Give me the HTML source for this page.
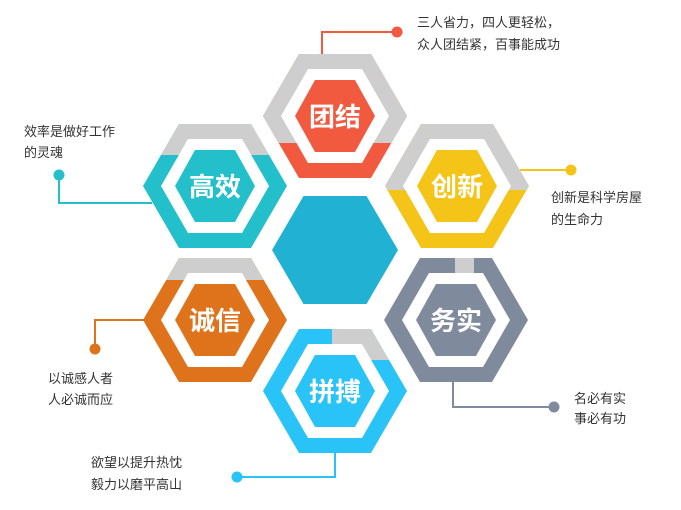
<!DOCTYPE html>
<html><head><meta charset="utf-8"><style>
html,body{margin:0;padding:0;background:#fff;width:681px;height:510px;overflow:hidden}
svg{display:block}
.t{font-family:"Liberation Sans","Noto Sans CJK SC",sans-serif;font-size:13px;fill:#333}
.h{font-family:"Liberation Sans","Noto Sans CJK SC",sans-serif;font-size:26px;font-weight:bold;fill:#fff}
</style></head><body>
<svg width="681" height="510" viewBox="0 0 681 510" xmlns="http://www.w3.org/2000/svg">
<defs>
<clipPath id="c1"><polygon points="263,116 299,54 371,54 407,116 371,178 299,178"/></clipPath>
<clipPath id="c2"><polygon points="143,186 179,124 251,124 287,186 251,248 179,248"/></clipPath>
<clipPath id="c3"><polygon points="385,186 421,124 493,124 529,186 493,248 421,248"/></clipPath>
<clipPath id="c4"><polygon points="143,320 179,258 251,258 287,320 251,382 179,382"/></clipPath>
<clipPath id="c5"><polygon points="384,320 420,258 492,258 528,320 492,382 420,382"/></clipPath>
<clipPath id="c6"><polygon points="263,391 299,329 371,329 407,391 371,453 299,453"/></clipPath>
</defs>

<!-- connectors -->
<g fill="none" stroke-width="2">
<polyline points="322,56 322,32 397,32" stroke="#f25a40"/>
<polyline points="59,175 59,203 152,203" stroke="#23bfcb"/>
<polyline points="520,170 571,170" stroke="#f5c419"/>
<polyline points="95,349 95,320 145,320" stroke="#df731c"/>
<polyline points="453,380 453,407 554,407" stroke="#7f8a9c"/>
<polyline points="335,451 335,477 237,477" stroke="#29c3f7"/>
</g>
<circle cx="397" cy="32" r="5.5" fill="#f25a40"/>
<circle cx="59" cy="175" r="5.5" fill="#23bfcb"/>
<circle cx="571" cy="170" r="5.5" fill="#f5c419"/>
<circle cx="95" cy="349" r="5.5" fill="#df731c"/>
<circle cx="554" cy="407" r="5.5" fill="#7f8a9c"/>
<circle cx="237" cy="477" r="5.5" fill="#29c3f7"/>

<!-- center -->
<polygon points="272,250 303.5,196 366.5,196 398,250 366.5,304 303.5,304" fill="#21b1d3"/>

<!-- 团结 -->
<polygon points="263,116 299,54 371,54 407,116 371,178 299,178" fill="#f25a40"/>
<rect x="250" y="40" width="170" height="103" fill="#cecece" clip-path="url(#c1)"/>
<polygon points="281,116 308,69 362,69 389,116 362,163 308,163" fill="#fff"/>
<polygon points="295,116 315,80 355,80 375,116 355,152 315,152" fill="#f25a40"/>
<text x="335" y="126" text-anchor="middle" class="h">团结</text>

<!-- 高效 -->
<polygon points="143,186 179,124 251,124 287,186 251,248 179,248" fill="#23bfcb"/>
<rect x="130" y="110" width="170" height="45" fill="#cecece" clip-path="url(#c2)"/>
<polygon points="161,186 188,139 242,139 269,186 242,233 188,233" fill="#fff"/>
<polygon points="175,186 195,150 235,150 255,186 235,222 195,222" fill="#23bfcb"/>
<text x="215" y="196" text-anchor="middle" class="h">高效</text>

<!-- 创新 -->
<polygon points="385,186 421,124 493,124 529,186 493,248 421,248" fill="#f5c419"/>
<rect x="370" y="110" width="170" height="80" fill="#cecece" clip-path="url(#c3)"/>
<polygon points="403,186 430,139 484,139 511,186 484,233 430,233" fill="#fff"/>
<polygon points="417,186 437,150 477,150 497,186 477,222 437,222" fill="#f5c419"/>
<text x="457" y="196" text-anchor="middle" class="h">创新</text>

<!-- 诚信 -->
<polygon points="143,320 179,258 251,258 287,320 251,382 179,382" fill="#df731c"/>
<rect x="130" y="250" width="170" height="30" fill="#cecece" clip-path="url(#c4)"/>
<polygon points="161,320 188,273 242,273 269,320 242,367 188,367" fill="#fff"/>
<polygon points="175,320 195,284 235,284 255,320 235,356 195,356" fill="#df731c"/>
<text x="215" y="330" text-anchor="middle" class="h">诚信</text>

<!-- 务实 -->
<polygon points="384,320 420,258 492,258 528,320 492,382 420,382" fill="#7f8a9c"/>
<rect x="455" y="250" width="19" height="30" fill="#cecece" clip-path="url(#c5)"/>
<polygon points="402,320 429,273 483,273 510,320 483,367 429,367" fill="#fff"/>
<polygon points="416,320 436,284 476,284 496,320 476,356 436,356" fill="#7f8a9c"/>
<text x="456" y="330" text-anchor="middle" class="h">务实</text>

<!-- 拼搏 -->
<polygon points="263,391 299,329 371,329 407,391 371,453 299,453" fill="#29c3f7"/>
<rect x="332" y="320" width="90" height="40" fill="#cecece" clip-path="url(#c6)"/>
<polygon points="281,391 308,344 362,344 389,391 362,438 308,438" fill="#fff"/>
<polygon points="295,391 315,355 355,355 375,391 355,427 315,427" fill="#29c3f7"/>
<text x="335" y="401" text-anchor="middle" class="h">拼搏</text>

<!-- labels -->
<text x="417" y="27" class="t">三人省力，四人更轻松，</text>
<text x="417" y="49" class="t">众人团结紧，百事能成功</text>
<text x="24" y="136" class="t">效率是做好工作</text>
<text x="24" y="157" class="t">的灵魂</text>
<text x="551" y="202" class="t">创新是科学房屋</text>
<text x="551" y="224" class="t">的生命力</text>
<text x="48" y="383" class="t">以诚感人者</text>
<text x="48" y="404" class="t">人必诚而应</text>
<text x="574" y="403" class="t">名必有实</text>
<text x="574" y="423" class="t">事必有功</text>
<text x="91" y="467" class="t">欲望以提升热忱</text>
<text x="91" y="489" class="t">毅力以磨平高山</text>
</svg>
</body></html>
